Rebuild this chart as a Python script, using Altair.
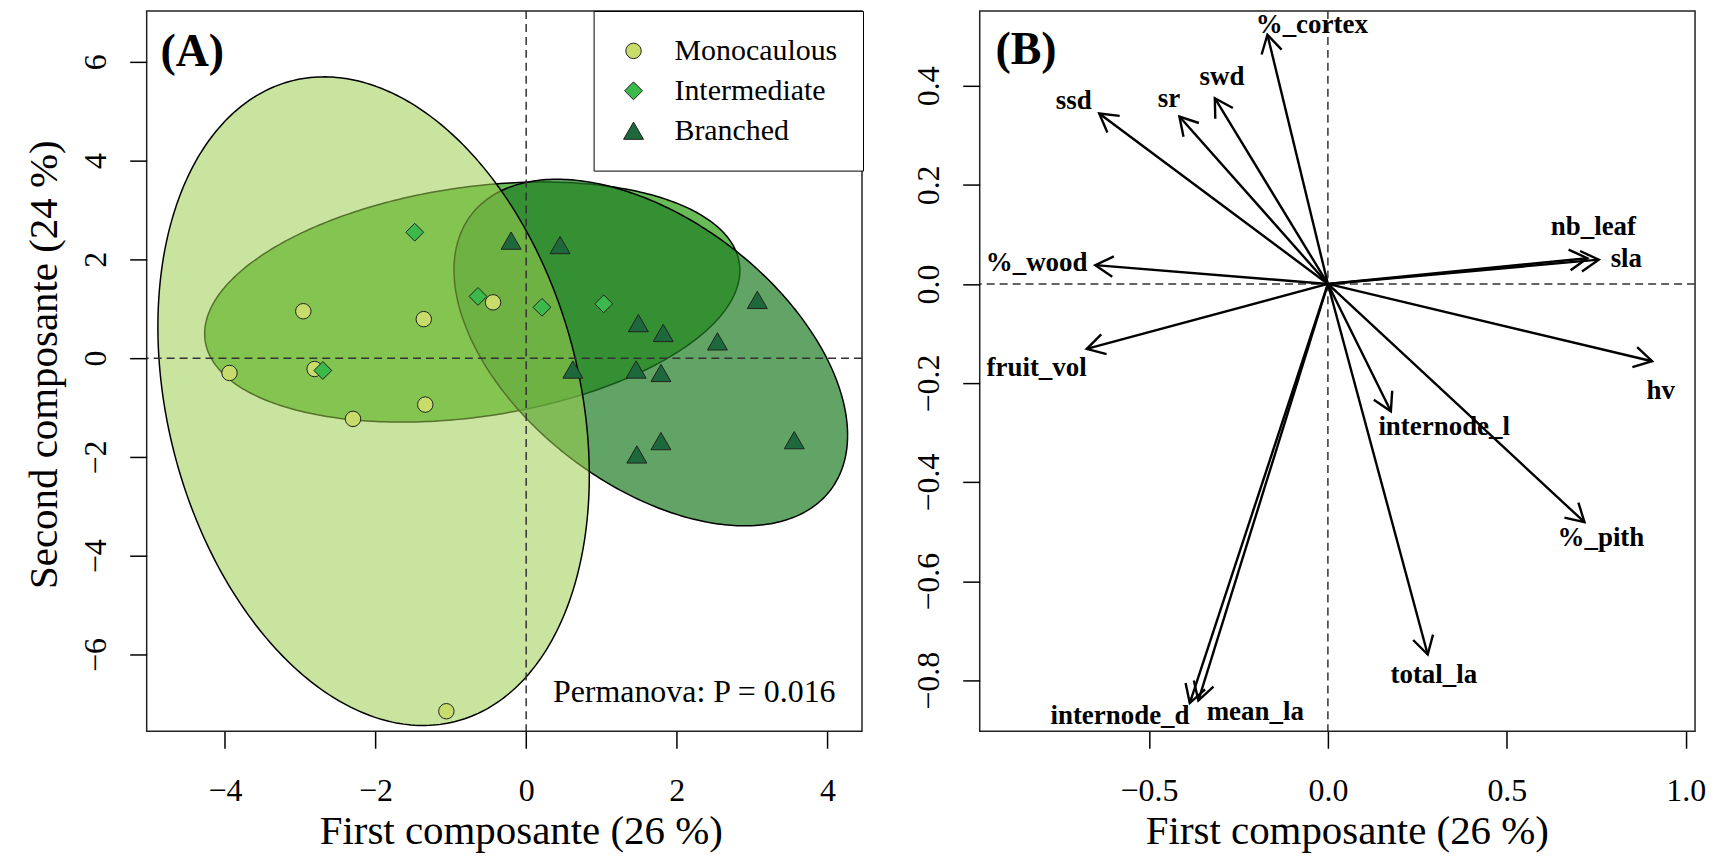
import math
import numpy as np
import pandas as pd
import altair as alt

# ---------------- data ----------------
groups = ["Monocaulous", "Intermediate", "Branched"]

mono_x = [-2.96, -1.36, -3.94, -2.81, -2.30, -1.34, -0.44, -1.06]
mono_y = [0.95, 0.79, -0.30, -0.22, -1.23, -0.94, 1.13, -7.15]
inter_x = [-1.48, -0.64, 0.21, 1.03, -2.70]
inter_y = [2.55, 1.25, 1.03, 1.10, -0.25]
bran_x = [-0.20, 0.45, 3.07, 1.49, 1.82, 2.54, 0.62, 1.46, 1.79, 1.79, 1.47, 3.56]
bran_y = [2.38, 2.29, 1.18, 0.71, 0.51, 0.34, -0.23, -0.23, -0.30, -1.68, -1.95, -1.66]

traits = ["ssd", "sr", "swd", "%_cortex", "%_wood", "nb_leaf", "sla", "hv",
          "internode_l", "%_pith", "fruit_vol", "internode_d", "mean_la", "total_la"]
load_x = [-0.639, -0.415, -0.316, -0.169, -0.650, 0.725, 0.757, 0.906,
          0.176, 0.717, -0.674, -0.386, -0.362, 0.279]
load_y = [0.344, 0.338, 0.375, 0.503, 0.038, 0.052, 0.049, -0.156,
          -0.257, -0.481, -0.131, -0.846, -0.841, -0.748]
label_x = [-0.710, -0.444, -0.296, -0.045, -0.814, 0.742, 0.834, 0.930,
           0.325, 0.763, -0.814, -0.581, -0.203, 0.296]
label_y = [0.354, 0.358, 0.402, 0.507, 0.027, 0.0995, 0.034, -0.232,
           -0.304, -0.529, -0.186, -0.889, -0.881, -0.805]

ticks_xA = [-4, -2, 0, 2, 4]
ticks_yA = [-6, -4, -2, 0, 2, 4, 6]
ticks_xB = [-0.5, 0.0, 0.5, 1.0]
ticks_yB = [-0.8, -0.6, -0.4, -0.2, 0.0, 0.2, 0.4]

x_title = "First composante (26 %)"
y_title = "Second composante (24 %)"
permanova_text = "Permanova: P = 0.016"

# ---------------- styling ----------------
W, H = 717, 722
xdomA = [-5.04, 4.46]
ydomA = [-7.556, 7.03]
xdomB = [-0.973, 1.026]
ydomB = [-0.903, 0.551]
serif = "Liberation Serif"

point_colors = ["#c8dc6c", "#3cb94b", "#1e693c"]
ell_fill = {"Monocaulous": ("#9acd4f", 0.55),
            "Intermediate": ("#4daf3a", 0.85),
            "Branched": ("#1f7e23", 0.70)}

CHI = math.sqrt(-2.0 * math.log(1 - 0.95))  # 95 % normal-theory ellipse radius


def ellipse_frames(xs, ys, n_area=240, n_line=360):
    xs = np.asarray(xs, float)
    ys = np.asarray(ys, float)
    mx, my = xs.mean(), ys.mean()
    S = np.cov(xs, ys, ddof=1)
    sxx, syy, sxy = S[0, 0], S[1, 1], S[0, 1]
    t = np.linspace(0, np.pi, n_area)
    dx = CHI * np.sqrt(sxx) * np.cos(t)
    yc = my + sxy / sxx * dx
    half = CHI * np.sqrt(np.clip((syy - sxy ** 2 / sxx) * (1 - dx ** 2 / (CHI ** 2 * sxx)), 0, None))
    area = pd.DataFrame({"x": mx + dx, "y": yc - half, "y2": yc + half})
    L = np.linalg.cholesky(S)
    u = np.linspace(0, 2 * np.pi, n_line + 1)
    p = (L @ np.vstack([np.cos(u), np.sin(u)])) * CHI
    line = pd.DataFrame({"x": mx + p[0], "y": my + p[1], "i": np.arange(n_line + 1)})
    return area, line


# ---------------- panel A ----------------
XA = alt.X("x:Q", scale=alt.Scale(domain=xdomA, nice=False, zero=False),
           axis=alt.Axis(values=ticks_xA, format="d", title=x_title, tickSize=17,
                         labelPadding=27, grid=False, domain=False, labelOverlap=False,
                         titleX=375, titleY=112, titleBaseline="alphabetic", titleAlign="center"))
YA = alt.Y("y:Q", scale=alt.Scale(domain=ydomA, nice=False, zero=False),
           axis=alt.Axis(values=ticks_yA, format="d", title=y_title, tickSize=17,
                         labelPadding=24, grid=False, domain=False, labelOverlap=False,
                         labelAngle=270, labelAlign="center", labelBaseline="alphabetic",
                         titleAngle=270, titleX=-102, titleY=354,
                         titleBaseline="middle", titleAlign="center"))

layersA = []
for g, xs, ys in [("Intermediate", inter_x, inter_y),
                  ("Branched", bran_x, bran_y),
                  ("Monocaulous", mono_x, mono_y)]:
    area, line = ellipse_frames(xs, ys)
    col, op = ell_fill[g]
    layersA.append(alt.Chart(area).mark_area(color=col, opacity=op, clip=True)
                   .encode(x=XA, y=YA, y2="y2:Q"))
    layersA.append(alt.Chart(line).mark_line(color="black", strokeWidth=1.5, clip=True)
                   .encode(x=XA, y=YA, order="i:Q"))

dash = [8, 5]
layersA.append(alt.Chart(pd.DataFrame({"y": [0.0]}))
               .mark_rule(color="#333", strokeWidth=1.5, strokeDash=dash).encode(y=YA))
layersA.append(alt.Chart(pd.DataFrame({"x": [0.0]}))
               .mark_rule(color="#333", strokeWidth=1.5, strokeDash=dash).encode(x=XA))

pts = pd.DataFrame({
    "x": mono_x + inter_x + bran_x,
    "y": mono_y + inter_y + bran_y,
    "group": [groups[0]] * len(mono_x) + [groups[1]] * len(inter_x) + [groups[2]] * len(bran_x),
})
leg = alt.Legend(title="", orient="none", legendX=448, legendY=0, padding=25,
                 fillColor="white", strokeColor="black",
                 labelFont=serif, labelFontSize=30, labelColor="black",
                 labelLimit=400, labelOffset=26, rowPadding=10, symbolSize=280,
                 symbolStrokeColor="#222", symbolStrokeWidth=1)
layersA.append(
    alt.Chart(pts).mark_point(filled=True, opacity=1, stroke="#222", strokeWidth=1).encode(
        x=XA, y=YA,
        color=alt.Color("group:N", scale=alt.Scale(domain=groups, range=point_colors), legend=leg),
        shape=alt.Shape("group:N", scale=alt.Scale(domain=groups, range=["circle", "diamond", "triangle-up"]), legend=leg),
        size=alt.Size("group:N", scale=alt.Scale(domain=groups, range=[240, 400, 470]), legend=None),
    )
)
layersA.append(alt.Chart(pd.DataFrame({"x": [4.109], "y": [-6.963], "t": [permanova_text]}))
               .mark_text(font=serif, fontSize=32, align="right", baseline="alphabetic", color="black")
               .encode(x=XA, y=YA, text="t:N"))
layersA.append(alt.Chart(pd.DataFrame({"x": [-4.857], "y": [5.92], "t": ["(A)"]}))
               .mark_text(font=serif, fontSize=46, fontWeight="bold", align="left", baseline="alphabetic", color="black")
               .encode(x=XA, y=YA, text="t:N"))

panelA = alt.layer(*layersA).properties(width=W, height=H)

# ---------------- panel B ----------------
XB = alt.X("x:Q", scale=alt.Scale(domain=xdomB, nice=False, zero=False),
           axis=alt.Axis(values=ticks_xB, format=".1f", title=x_title, tickSize=17,
                         labelPadding=27, grid=False, domain=False, labelOverlap=False,
                         titleX=368, titleY=112, titleBaseline="alphabetic", titleAlign="center"))
YB = alt.Y("y:Q", scale=alt.Scale(domain=ydomB, nice=False, zero=False),
           axis=alt.Axis(values=ticks_yB, format=".1f", title=None, tickSize=17,
                         labelPadding=24, grid=False, domain=False, labelOverlap=False,
                         labelAngle=270, labelAlign="center", labelBaseline="alphabetic"))

px_x = W / (xdomB[1] - xdomB[0])
px_y = H / (ydomB[1] - ydomB[0])
arrows = pd.DataFrame({"trait": traits, "x": load_x, "y": load_y,
                       "x2": [0.0] * len(traits), "y2": [0.0] * len(traits)})
arrows["ang"] = [(math.degrees(math.atan2(-yy * px_y, xx * px_x))) % 360 for xx, yy in zip(load_x, load_y)]
labels = pd.DataFrame({"trait": traits, "x": label_x, "y": label_y})

layersB = [
    alt.Chart(pd.DataFrame({"y": [0.0]})).mark_rule(color="#333", strokeWidth=1.5, strokeDash=dash).encode(y=YB),
    alt.Chart(pd.DataFrame({"x": [0.0]})).mark_rule(color="#333", strokeWidth=1.5, strokeDash=dash).encode(x=XB),
    alt.Chart(arrows).mark_rule(color="black", strokeWidth=2.4).encode(x=XB, y=YB, x2="x2:Q", y2="y2:Q"),
    alt.Chart(arrows).mark_point(shape="M-0.866,-0.5L0,0L-0.866,0.5", filled=False, size=1700,
                                 color="black", strokeWidth=2.4, opacity=1)
    .encode(x=XB, y=YB, angle=alt.Angle("ang:Q", scale=None)),
    alt.Chart(labels).mark_text(font=serif, fontSize=27, fontWeight="bold", align="center",
                                baseline="alphabetic", color="black")
    .encode(x=XB, y=YB, text="trait:N"),
    alt.Chart(pd.DataFrame({"x": [-0.929], "y": [0.443], "t": ["(B)"]}))
    .mark_text(font=serif, fontSize=46, fontWeight="bold", align="left", baseline="alphabetic", color="black")
    .encode(x=XB, y=YB, text="t:N"),
]
panelB = alt.layer(*layersB).properties(width=W, height=H)

chart = (
    alt.hconcat(panelA, panelB, spacing=118, bounds="flush")
    .resolve_legend(color="independent", shape="independent", size="independent")
    .properties(padding={"left": 15, "top": 0, "right": 5, "bottom": 0})
    .configure_view(stroke="#222", strokeWidth=1.5)
    .configure_axis(labelFont=serif, labelFontSize=32, labelColor="black",
                    titleFont=serif, titleFontSize=41, titleFontWeight="normal", titleColor="black",
                    tickColor="black", tickWidth=1.5)
)

chart.save("out.html", embed_options={"renderer": "svg", "actions": False})
